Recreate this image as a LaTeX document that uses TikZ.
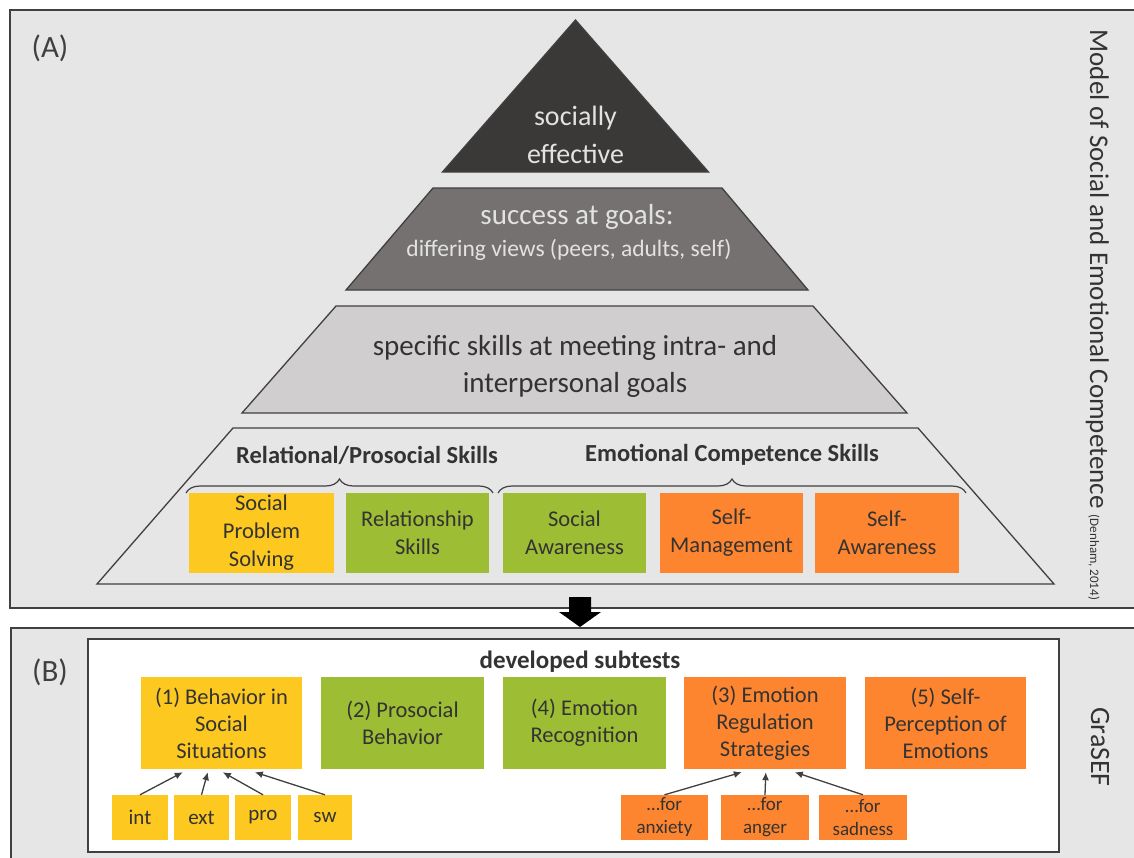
\documentclass[tikz,border=0pt]{standalone}
\usepackage{fontspec}
\setmainfont{Carlito}
\usetikzlibrary{arrows.meta,decorations.pathreplacing,calc}

\definecolor{panelbg}{HTML}{E7E6E6}
\definecolor{edge}{HTML}{404040}
\definecolor{topfill}{HTML}{3B3838}
\definecolor{midfill}{HTML}{767171}
\definecolor{lowfill}{HTML}{D0CECE}
\definecolor{skyel}{HTML}{FDC81F}
\definecolor{skgreen}{HTML}{9DBE34}
\definecolor{skorange}{HTML}{FD8530}
\definecolor{ink}{HTML}{333333}
\definecolor{lightink}{HTML}{E2E2E2}

\tikzset{
  panel/.style={draw=edge, line width=1.5pt, fill=panelbg},
  layer/.style={draw=edge, line width=1.3pt},
  bigtext/.style={align=center, font=\fontsize{29}{37}\selectfont},
  skillbox/.style={inner sep=0pt, align=center, text=ink, minimum height=80,
    font=\fontsize{22.5}{28}\selectfont},
  testbox/.style={inner sep=0pt, align=center, text=ink, minimum height=92,
    font=\fontsize{22.5}{27}\selectfont},
  facetbox/.style={inner sep=0pt, align=center, text=ink, minimum height=45,
    font=\fontsize{21}{25}\selectfont},
  emobox/.style={inner sep=0pt, align=center, text=ink, minimum height=45,
    font=\fontsize{19}{23}\selectfont},
  heading/.style={text=ink, font=\bfseries\fontsize{24.5}{28}\selectfont},
  panellabel/.style={text=edge, font=\fontsize{31}{34}\selectfont},
  sidetitle/.style={rotate=-90, text=ink, font=\fontsize{27}{30}\selectfont},
  groupbrace/.style={draw=edge, line width=1.2pt,
    decorate, decoration={brace, amplitude=14pt}},
  feed/.style={draw=edge, line width=1.3pt, -{Latex[length=8pt,width=7pt]}},
}

\begin{document}
\begin{tikzpicture}[x=1pt,y=-1pt]
\useasboundingbox (0,0) rectangle (1134,857);
\clip (0,0) rectangle (1134,857);

% ---------- panel A: pyramid model ----------
\path[panel] (10,10) rectangle (1160,608);
\node[panellabel] (labA) at (50,48) {(A)};

\path[layer, fill=topfill] (575.5,20) -- (708.5,172) -- (442.5,172) -- cycle;
\node[bigtext, text=lightink, font=\fontsize{28}{38}\selectfont] (lvl1) at (575.5,135) {socially\\effective};

\path[layer, fill=midfill] (433,188) -- (722,188) -- (808,290) -- (346,290) -- cycle;
\node[bigtext, text=lightink] (lvl2) at (577,217) {success at goals:};
\node[text=lightink, font=\fontsize{23.5}{27}\selectfont] (lvl2b) at (569,250)
  {differing views (peers, adults, self)};

\path[layer, fill=lowfill] (336,306) -- (813,306) -- (907,413) -- (242,413) -- cycle;
\node[bigtext, text=ink] (lvl3) at (575,366)
  {specific skills at meeting intra- and\\interpersonal goals};

\path[layer, fill=panelbg] (233,428) -- (918,428) -- (1054,584) -- (97,584) -- cycle;

\node[heading] (relh) at (367,455) {Relational/Prosocial Skills};
\node[heading] (emoh) at (732,455) {Emotional Competence Skills};
\draw[groupbrace] (186,493) -- (493,493);
\draw[groupbrace] (498,493) -- (966,493);

\node[skillbox, fill=skyel, minimum width=145] (sps) at (261.5,533) {Social\\Problem\\Solving};
\node[skillbox, fill=skgreen, minimum width=143] (rs) at (417.5,533) {Relationship\\Skills};
\node[skillbox, fill=skgreen, minimum width=143] (sa) at (574.5,533) {Social\\Awareness};
\node[skillbox, fill=skorange, minimum width=143] (sm) at (731.5,533) {Self-\\Management};
\node[skillbox, fill=skorange, minimum width=144] (saw) at (887,533) {Self-\\Awareness};

\node[sidetitle, anchor=base west] (modeltitle) at (1090,26)
  {Model of Social and Emotional Competence {\fontsize{13}{16}\selectfont(Denham, 2014)}};

% ---------- panel B: GraSEF subtests ----------
\path[panel] (11,628) rectangle (1160,880);
\node[panellabel] (labB) at (50,672) {(B)};
\path[draw=edge, line width=1.3pt, fill=white] (88,639) rectangle (1059,852);
\node[sidetitle, font=\fontsize{28}{30}\selectfont] (grasef) at (1100,747) {GraSEF};

\node[heading, font=\bfseries\fontsize{25}{28}\selectfont] (dev) at (580,662) {developed subtests};

\node[testbox, fill=skyel, minimum width=161] (b1) at (221.5,723) {(1) Behavior in\\Social\\Situations};
\node[testbox, fill=skgreen, minimum width=163] (b2) at (402.5,723) {(2) Prosocial\\Behavior};
\node[testbox, fill=skgreen, minimum width=163] (b4) at (584.5,723) {(4) Emotion\\Recognition};
\node[testbox, fill=skorange, minimum width=162] (b3) at (765,723) {(3) Emotion\\Regulation\\Strategies};
\node[testbox, fill=skorange, minimum width=161] (b5) at (945.5,723) {(5) Self-\\Perception of\\Emotions};

\node[facetbox, fill=skyel, minimum width=56] (int) at (140,817.5) {int};
\node[facetbox, fill=skyel, minimum width=55] (ext) at (201.5,817.5) {ext};
\node[facetbox, fill=skyel, minimum width=56] (pro) at (263,817.5) {pro};
\node[facetbox, fill=skyel, minimum width=54] (sw) at (325,817.5) {sw};

\node[emobox, fill=skorange, minimum width=87] (anx) at (664.5,817.5) {…for\\anxiety};
\node[emobox, fill=skorange, minimum width=88] (ang) at (765,817.5) {…for\\anger};
\node[emobox, fill=skorange, minimum width=88] (sad) at (863,817.5) {…for\\sadness};

\draw[feed] (int.north) -- ($(b1.south west)+(42,3)$);
\draw[feed] (ext.north) -- ($(b1.south west)+(67,3)$);
\draw[feed] (pro.north) -- ($(b1.south west)+(82,3)$);
\draw[feed] (sw.north) -- ($(b1.south west)+(114,3)$);

\draw[feed] (anx.north) -- ($(b3.south west)+(58,3)$);
\draw[feed] (ang.north) -- ($(b3.south west)+(82,3)$);
\draw[feed] (sad.north) -- ($(b3.south west)+(111,3)$);

% ---------- block arrow from model to subtests ----------
\coordinate (aout) at (580,597);
\fill[black] (aout) ++(-11,0) -- ++(22,0) -- ++(0,15) -- ++(10,0)
  -- ++(-21,15) -- ++(-21,-15) -- ++(10,0) -- cycle;
\end{tikzpicture}
\end{document}
